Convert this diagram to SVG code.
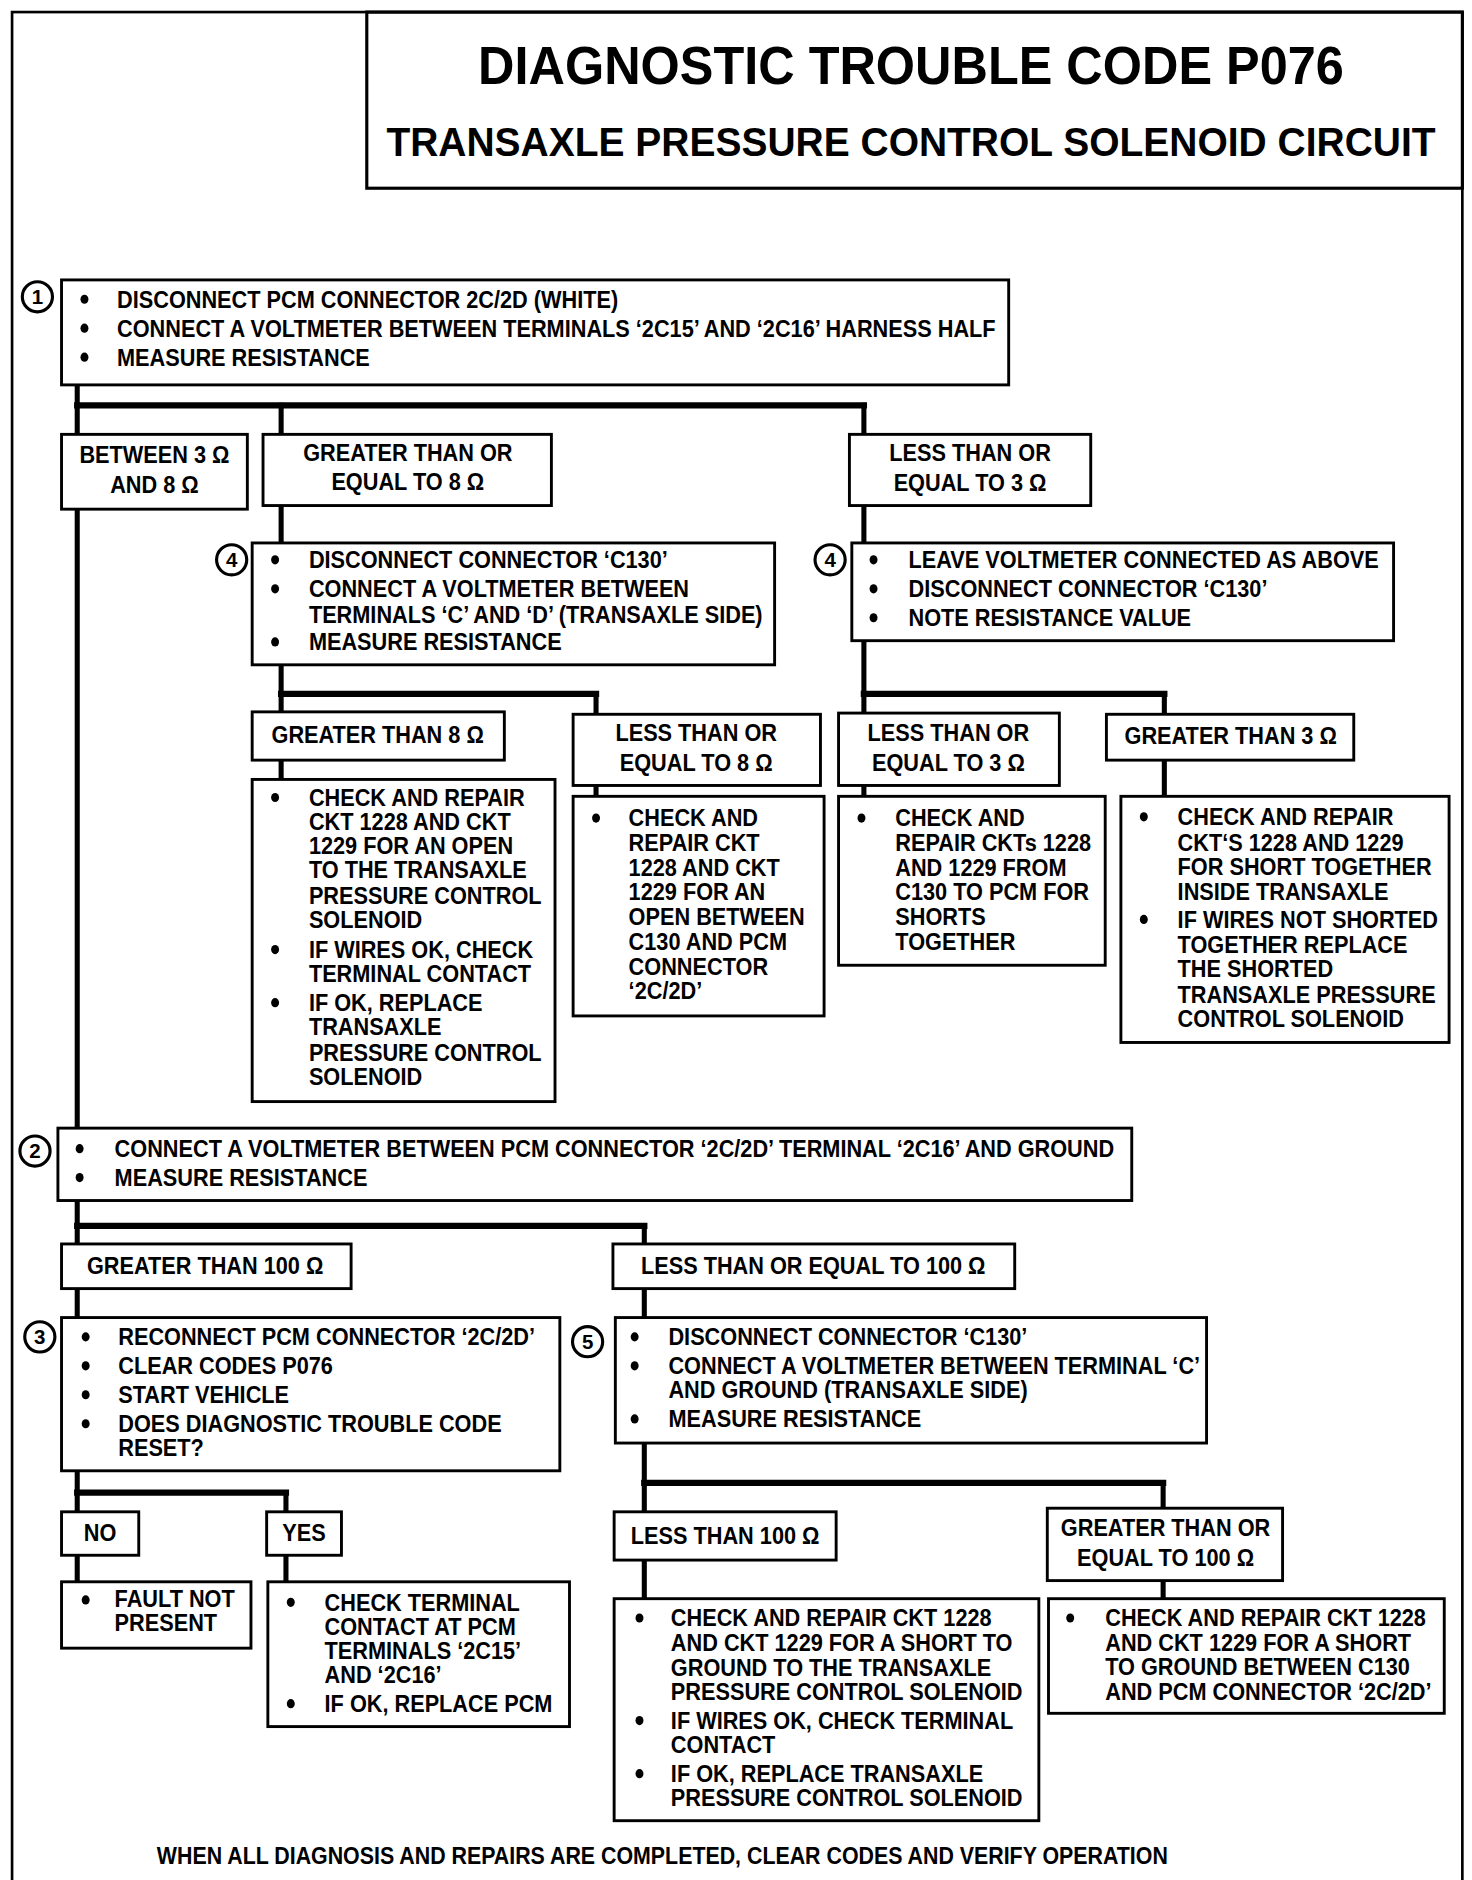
<svg xmlns="http://www.w3.org/2000/svg" width="1472" height="1880" viewBox="0 0 1472 1880">
<style>
.bx{fill:#fff;stroke:#000;stroke-width:2.4}
.fr{fill:none;stroke:#000;stroke-width:2.2}
.t{font-family:"Liberation Sans",Arial,Helvetica,sans-serif;font-size:20px;font-weight:bold;fill:#000}
.m{text-anchor:middle}
.h1{font-family:"Liberation Sans",Arial,Helvetica,sans-serif;font-size:44px;font-weight:bold;text-anchor:middle}
.h2{font-family:"Liberation Sans",Arial,Helvetica,sans-serif;font-size:34px;font-weight:bold;text-anchor:middle}
.cn{fill:none;stroke:#000;stroke-width:4.2;stroke-linejoin:miter;stroke-linecap:square}
.bar{fill:none;stroke:#000;stroke-width:5.2;stroke-linejoin:miter;stroke-linecap:square}
.ci{fill:#fff;stroke:#000;stroke-width:2.6}
.nm{font-family:"Liberation Sans",Arial,sans-serif;font-size:17px;font-weight:bold;text-anchor:middle}
</style>
<defs><ellipse id="b" rx="3.3" ry="3.8" fill="#000"/></defs>
<rect width="1472" height="1880" fill="#fff"/>
<g transform="scale(1.20656)">
<rect id="frame" class="fr" x="10" y="10" width="1202" height="1552"/>
<g id="title">
<rect class="fr" x="304" y="10" width="908" height="146" style="stroke-width:2.6"/>
<g transform="translate(755 0) scale(0.95 1)">
<text class="h1" x="0" y="70">DIAGNOSTIC TROUBLE CODE P076</text>
<text class="h2" x="0" y="129">TRANSAXLE PRESSURE CONTROL SOLENOID CIRCUIT</text>
</g>
</g>
<g id="connectors">
<path class="cn" d="M64 319V360M233 336V360M716 336V360M64 422V935M233 419V450M716 419V450M233 551V590M494 575V592M494 651V660M233 630V646M716 531V591M965 575V592M716 651V660M965 630V660M64 995V1031M534 1016V1031M64 1068V1092M534 1068V1092M64 1219V1253M237 1237V1253M64 1289V1311M237 1289V1311M534 1196V1253M964 1229V1250M534 1293V1325M964 1310V1325"/>
<path class="bar" d="M64 336H716M233 575H494M716 575H965M64 1016H534M64 1237H237M534 1229H964"/>
</g>
<g id="step1">
<rect class="bx" x="51" y="232" width="785" height="87"/>
<circle class="ci" cx="31" cy="246" r="12.5"/><text class="nm" x="31" y="252">1</text>
<use href="#b" x="70" y="248"/><use href="#b" x="70" y="272"/><use href="#b" x="70" y="296"/>
<g transform="translate(97 0) scale(0.9 1)">
<text class="t" x="0" y="255">DISCONNECT PCM CONNECTOR 2C/2D (WHITE)</text>
<text class="t" x="0" y="279">CONNECT A VOLTMETER BETWEEN TERMINALS ‘2C15’ AND ‘2C16’ HARNESS HALF</text>
<text class="t" x="0" y="303">MEASURE RESISTANCE</text>
</g>
</g>
<g id="r-between">
<rect class="bx" x="51" y="360" width="154" height="62"/>
<g transform="translate(128 0) scale(0.9 1)">
<text class="t m" x="0" y="384">BETWEEN 3 Ω</text>
<text class="t m" x="0" y="409">AND 8 Ω</text>
</g>
</g>
<g id="r-gte8">
<rect class="bx" x="218" y="360" width="239" height="59"/>
<g transform="translate(338 0) scale(0.9 1)">
<text class="t m" x="0" y="382">GREATER THAN OR</text>
<text class="t m" x="0" y="406">EQUAL TO 8 Ω</text>
</g>
</g>
<g id="r-lte3">
<rect class="bx" x="704" y="360" width="200" height="59"/>
<g transform="translate(804 0) scale(0.9 1)">
<text class="t m" x="0" y="382">LESS THAN OR</text>
<text class="t m" x="0" y="407">EQUAL TO 3 Ω</text>
</g>
</g>
<g id="step4a">
<rect class="bx" x="209" y="450" width="433" height="101"/>
<circle class="ci" cx="192" cy="464" r="12.5"/><text class="nm" x="192" y="470">4</text>
<use href="#b" x="228" y="464"/><use href="#b" x="228" y="488"/><use href="#b" x="228" y="532"/>
<g transform="translate(256 0) scale(0.9 1)">
<text class="t" x="0" y="471">DISCONNECT CONNECTOR ‘C130’</text>
<text class="t" x="0" y="495">CONNECT A VOLTMETER BETWEEN</text>
<text class="t" x="0" y="516">TERMINALS ‘C’ AND ‘D’ (TRANSAXLE SIDE)</text>
<text class="t" x="0" y="539">MEASURE RESISTANCE</text>
</g>
</g>
<g id="step4b">
<rect class="bx" x="706" y="450" width="449" height="81"/>
<circle class="ci" cx="688" cy="464" r="12.5"/><text class="nm" x="688" y="470">4</text>
<use href="#b" x="724" y="464"/><use href="#b" x="724" y="488"/><use href="#b" x="724" y="512"/>
<g transform="translate(753 0) scale(0.9 1)">
<text class="t" x="0" y="471">LEAVE VOLTMETER CONNECTED AS ABOVE</text>
<text class="t" x="0" y="495">DISCONNECT CONNECTOR ‘C130’</text>
<text class="t" x="0" y="519">NOTE RESISTANCE VALUE</text>
</g>
</g>
<g id="r-gt8">
<rect class="bx" x="209" y="590" width="209" height="40"/>
<g transform="translate(313 0) scale(0.9 1)">
<text class="t m" x="0" y="616">GREATER THAN 8 Ω</text>
</g>
</g>
<g id="r-lte8">
<rect class="bx" x="475" y="592" width="205" height="59"/>
<g transform="translate(577 0) scale(0.9 1)">
<text class="t m" x="0" y="614">LESS THAN OR</text>
<text class="t m" x="0" y="639">EQUAL TO 8 Ω</text>
</g>
</g>
<g id="r-lte3b">
<rect class="bx" x="695" y="591" width="183" height="60"/>
<g transform="translate(786 0) scale(0.9 1)">
<text class="t m" x="0" y="614">LESS THAN OR</text>
<text class="t m" x="0" y="639">EQUAL TO 3 Ω</text>
</g>
</g>
<g id="r-gt3">
<rect class="bx" x="917" y="592" width="205" height="38"/>
<g transform="translate(1020 0) scale(0.9 1)">
<text class="t m" x="0" y="617">GREATER THAN 3 Ω</text>
</g>
</g>
<g id="fixA">
<rect class="bx" x="209" y="646" width="251" height="267"/>
<use href="#b" x="228" y="661"/><use href="#b" x="228" y="787"/><use href="#b" x="228" y="831"/>
<g transform="translate(256 0) scale(0.9 1)">
<text class="t" x="0" y="668">CHECK AND REPAIR</text>
<text class="t" x="0" y="688">CKT 1228 AND CKT</text>
<text class="t" x="0" y="708">1229 FOR AN OPEN</text>
<text class="t" x="0" y="728">TO THE TRANSAXLE</text>
<text class="t" x="0" y="749">PRESSURE CONTROL</text>
<text class="t" x="0" y="769">SOLENOID</text>
<text class="t" x="0" y="794">IF WIRES OK, CHECK</text>
<text class="t" x="0" y="814">TERMINAL CONTACT</text>
<text class="t" x="0" y="838">IF OK, REPLACE</text>
<text class="t" x="0" y="858">TRANSAXLE</text>
<text class="t" x="0" y="879">PRESSURE CONTROL</text>
<text class="t" x="0" y="899">SOLENOID</text>
</g>
</g>
<g id="fixB">
<rect class="bx" x="475" y="660" width="208" height="182"/>
<use href="#b" x="494" y="678"/>
<g transform="translate(521 0) scale(0.9 1)">
<text class="t" x="0" y="685">CHECK AND</text>
<text class="t" x="0" y="705">REPAIR CKT</text>
<text class="t" x="0" y="726">1228 AND CKT</text>
<text class="t" x="0" y="746">1229 FOR AN</text>
<text class="t" x="0" y="767">OPEN BETWEEN</text>
<text class="t" x="0" y="787">C130 AND PCM</text>
<text class="t" x="0" y="808">CONNECTOR</text>
<text class="t" x="0" y="828">‘2C/2D’</text>
</g>
</g>
<g id="fixC">
<rect class="bx" x="695" y="660" width="221" height="140"/>
<use href="#b" x="714" y="678"/>
<g transform="translate(742 0) scale(0.9 1)">
<text class="t" x="0" y="685">CHECK AND</text>
<text class="t" x="0" y="705">REPAIR CKTs 1228</text>
<text class="t" x="0" y="726">AND 1229 FROM</text>
<text class="t" x="0" y="746">C130 TO PCM FOR</text>
<text class="t" x="0" y="767">SHORTS</text>
<text class="t" x="0" y="787">TOGETHER</text>
</g>
</g>
<g id="fixD">
<rect class="bx" x="929" y="660" width="272" height="204"/>
<use href="#b" x="948" y="677"/><use href="#b" x="948" y="762"/>
<g transform="translate(976 0) scale(0.9 1)">
<text class="t" x="0" y="684">CHECK AND REPAIR</text>
<text class="t" x="0" y="705">CKT‘S 1228 AND 1229</text>
<text class="t" x="0" y="725">FOR SHORT TOGETHER</text>
<text class="t" x="0" y="746">INSIDE TRANSAXLE</text>
<text class="t" x="0" y="769">IF WIRES NOT SHORTED</text>
<text class="t" x="0" y="790">TOGETHER REPLACE</text>
<text class="t" x="0" y="810">THE SHORTED</text>
<text class="t" x="0" y="831">TRANSAXLE PRESSURE</text>
<text class="t" x="0" y="851">CONTROL SOLENOID</text>
</g>
</g>
<g id="step2">
<rect class="bx" x="48" y="935" width="890" height="60"/>
<circle class="ci" cx="29" cy="954" r="12.5"/><text class="nm" x="29" y="960">2</text>
<use href="#b" x="66" y="952"/><use href="#b" x="66" y="976"/>
<g transform="translate(95 0) scale(0.9 1)">
<text class="t" x="0" y="959">CONNECT A VOLTMETER BETWEEN PCM CONNECTOR ‘2C/2D’ TERMINAL ‘2C16’ AND GROUND</text>
<text class="t" x="0" y="983">MEASURE RESISTANCE</text>
</g>
</g>
<g id="r-gt100">
<rect class="bx" x="51" y="1031" width="240" height="37"/>
<g transform="translate(170 0) scale(0.9 1)">
<text class="t m" x="0" y="1056">GREATER THAN 100 Ω</text>
</g>
</g>
<g id="r-lte100">
<rect class="bx" x="508" y="1031" width="333" height="37"/>
<g transform="translate(674 0) scale(0.9 1)">
<text class="t m" x="0" y="1056">LESS THAN OR EQUAL TO 100 Ω</text>
</g>
</g>
<g id="step3">
<rect class="bx" x="51" y="1092" width="413" height="127"/>
<circle class="ci" cx="33" cy="1108" r="12.5"/><text class="nm" x="33" y="1114">3</text>
<use href="#b" x="71" y="1108"/><use href="#b" x="71" y="1132"/><use href="#b" x="71" y="1156"/><use href="#b" x="71" y="1180"/>
<g transform="translate(98 0) scale(0.9 1)">
<text class="t" x="0" y="1115">RECONNECT PCM CONNECTOR ‘2C/2D’</text>
<text class="t" x="0" y="1139">CLEAR CODES P076</text>
<text class="t" x="0" y="1163">START VEHICLE</text>
<text class="t" x="0" y="1187">DOES DIAGNOSTIC TROUBLE CODE</text>
<text class="t" x="0" y="1207">RESET?</text>
</g>
</g>
<g id="step5">
<rect class="bx" x="510" y="1092" width="490" height="104"/>
<circle class="ci" cx="487" cy="1112" r="12.5"/><text class="nm" x="487" y="1118">5</text>
<use href="#b" x="526" y="1108"/><use href="#b" x="526" y="1132"/><use href="#b" x="526" y="1176"/>
<g transform="translate(554 0) scale(0.9 1)">
<text class="t" x="0" y="1115">DISCONNECT CONNECTOR ‘C130’</text>
<text class="t" x="0" y="1139">CONNECT A VOLTMETER BETWEEN TERMINAL ‘C’</text>
<text class="t" x="0" y="1159">AND GROUND (TRANSAXLE SIDE)</text>
<text class="t" x="0" y="1183">MEASURE RESISTANCE</text>
</g>
</g>
<g id="r-no">
<rect class="bx" x="51" y="1253" width="64" height="36"/>
<g transform="translate(83 0) scale(0.9 1)">
<text class="t m" x="0" y="1277">NO</text>
</g>
</g>
<g id="r-yes">
<rect class="bx" x="221" y="1253" width="62" height="36"/>
<g transform="translate(252 0) scale(0.9 1)">
<text class="t m" x="0" y="1277">YES</text>
</g>
</g>
<g id="r-lt100">
<rect class="bx" x="509" y="1253" width="184" height="40"/>
<g transform="translate(601 0) scale(0.9 1)">
<text class="t m" x="0" y="1280">LESS THAN 100 Ω</text>
</g>
</g>
<g id="r-gte100">
<rect class="bx" x="868" y="1250" width="195" height="60"/>
<g transform="translate(966 0) scale(0.9 1)">
<text class="t m" x="0" y="1273">GREATER THAN OR</text>
<text class="t m" x="0" y="1298">EQUAL TO 100 Ω</text>
</g>
</g>
<g id="fault">
<rect class="bx" x="51" y="1311" width="157" height="55"/>
<use href="#b" x="71" y="1326"/>
<g transform="translate(95 0) scale(0.9 1)">
<text class="t" x="0" y="1332">FAULT NOT</text>
<text class="t" x="0" y="1352">PRESENT</text>
</g>
</g>
<g id="fixG">
<rect class="bx" x="222" y="1311" width="250" height="120"/>
<use href="#b" x="241" y="1328"/><use href="#b" x="241" y="1412"/>
<g transform="translate(269 0) scale(0.9 1)">
<text class="t" x="0" y="1335">CHECK TERMINAL</text>
<text class="t" x="0" y="1355">CONTACT AT PCM</text>
<text class="t" x="0" y="1375">TERMINALS ‘2C15’</text>
<text class="t" x="0" y="1395">AND ‘2C16’</text>
<text class="t" x="0" y="1419">IF OK, REPLACE PCM</text>
</g>
</g>
<g id="fixE">
<rect class="bx" x="509" y="1325" width="352" height="184"/>
<use href="#b" x="530" y="1341"/><use href="#b" x="530" y="1426"/><use href="#b" x="530" y="1470"/>
<g transform="translate(556 0) scale(0.9 1)">
<text class="t" x="0" y="1348">CHECK AND REPAIR CKT 1228</text>
<text class="t" x="0" y="1368">AND CKT 1229 FOR A SHORT TO</text>
<text class="t" x="0" y="1389">GROUND TO THE TRANSAXLE</text>
<text class="t" x="0" y="1409">PRESSURE CONTROL SOLENOID</text>
<text class="t" x="0" y="1433">IF WIRES OK, CHECK TERMINAL</text>
<text class="t" x="0" y="1453">CONTACT</text>
<text class="t" x="0" y="1477">IF OK, REPLACE TRANSAXLE</text>
<text class="t" x="0" y="1497">PRESSURE CONTROL SOLENOID</text>
</g>
</g>
<g id="fixF">
<rect class="bx" x="869" y="1325" width="328" height="95"/>
<use href="#b" x="887" y="1341"/>
<g transform="translate(916 0) scale(0.9 1)">
<text class="t" x="0" y="1348">CHECK AND REPAIR CKT 1228</text>
<text class="t" x="0" y="1368">AND CKT 1229 FOR A SHORT</text>
<text class="t" x="0" y="1388">TO GROUND BETWEEN C130</text>
<text class="t" x="0" y="1409">AND PCM CONNECTOR ‘2C/2D’</text>
</g>
</g>
<g id="footer">
<g transform="translate(130 0) scale(0.9 1)">
<text class="t" x="0" y="1545" textLength="931" lengthAdjust="spacingAndGlyphs">WHEN ALL DIAGNOSIS AND REPAIRS ARE COMPLETED, CLEAR CODES AND VERIFY OPERATION</text>
</g>
</g>
</g>
</svg>
